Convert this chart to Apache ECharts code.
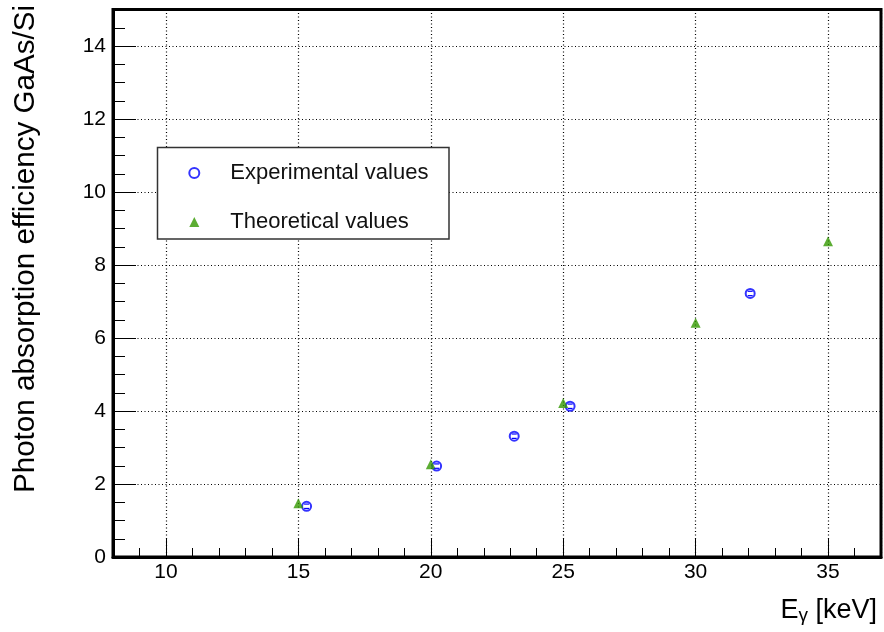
<!DOCTYPE html>
<html>
<head>
<meta charset="utf-8">
<script src="https://cdn.jsdelivr.net/npm/echarts@6/dist/echarts.min.js"></script>
<style>html,body{margin:0;padding:0;background:#fff;}#c{width:884px;height:632px;}</style>
</head>
<body>
<div id="c"></div>
<script>
// Data
const expX = [15.31, 20.22, 23.15, 25.26, 32.06];
const expY = [1.39, 2.49, 3.31, 4.13, 7.22];
const expYErr = [0.06, 0.06, 0.06, 0.06, 0.06];
const theoX = [15, 20, 25, 30, 35];
const theoY = [1.47, 2.54, 4.22, 6.42, 8.65];
const seriesNames = ['Experimental values', 'Theoretical values'];
const xTitle = ['E', 'γ', ' [keV]'];
const yTitle = 'Photon absorption efficiency GaAs/Si';

const FONT = '"Liberation Sans", Arial, Helvetica, sans-serif';
const GREEN = '#339900';
const BLUE = '#0000ff';
const chart = echarts.init(document.getElementById('c'), null, {renderer: 'canvas'});

const expData = expX.map((x, i) => [x, expY[i]]);
const errData = expX.map((x, i) => [x, expY[i], expYErr[i]]);
const theoData = theoX.map((x, i) => [x, theoY[i]]);

chart.setOption({
  backgroundColor: '#fff',
  animation: false,
  textStyle: {fontFamily: FONT},
  grid: {left: 113, right: 3, top: 9.5, bottom: 75, show: true, borderWidth: 3, borderColor: '#000', backgroundColor: 'transparent'},
  xAxis: {
    type: 'value', min: 8, max: 37,
    axisLine: {show: true, lineStyle: {color: '#000', width: 3}},
    axisTick: {show: true, inside: true, length: 18, lineStyle: {color: '#000', width: 1}},
    minorTick: {show: true, splitNumber: 5, length: 9, lineStyle: {color: '#000', width: 1}},
    axisLabel: {color: '#000', fontSize: 21, fontFamily: FONT, margin: 5, showMinLabel: false, showMaxLabel: false},
    splitLine: {show: true, lineStyle: {color: '#000', width: 1.2, type: [1, 2.5]}}
  },
  yAxis: {
    type: 'value', min: 0, max: 15, interval: 2,
    axisLine: {show: true, lineStyle: {color: '#000', width: 3}},
    axisTick: {show: true, inside: true, length: 23, lineStyle: {color: '#000', width: 1}},
    minorTick: {show: true, splitNumber: 4, length: 12, lineStyle: {color: '#000', width: 1}},
    axisLabel: {color: '#000', fontSize: 21, fontFamily: FONT, margin: 7, showMaxLabel: false},
    splitLine: {show: true, lineStyle: {color: '#000', width: 1.2, type: [1, 2.5]}}
  },
  legend: {
    orient: 'vertical', left: 188.3, top: 162, padding: 0,
    itemWidth: 10, itemHeight: 10, itemGap: 27,
    data: [
      {name: seriesNames[0]},
      {name: seriesNames[1], icon: 'triangle'}
    ],
    textStyle: {fontSize: 22, color: '#111', fontFamily: FONT, padding: [0, 0, 0, 26]},
    z: 20
  },
  graphic: [
    {type: 'rect', z: 10, shape: {x: 157.5, y: 147.5, width: 291.5, height: 91.5},
     style: {fill: '#fff', stroke: '#333', lineWidth: 1.5}},
    {type: 'text', z: 10, x: 26, y: 5, rotation: Math.PI / 2,
     style: {text: yTitle, fontSize: 29.6, fontFamily: FONT, fill: '#000', align: 'right', verticalAlign: 'middle'}},
    {type: 'text', z: 10, x: 877, y: 595.5,
     style: {text: '{a|' + xTitle[0] + '}{s|' + xTitle[1] + '}{a|' + xTitle[2] + '}',
       align: 'right', verticalAlign: 'top', fill: '#000',
       rich: {
         a: {fontSize: 27, lineHeight: 30, fontFamily: FONT, fill: '#000', verticalAlign: 'middle'},
         s: {fontSize: 19, lineHeight: 19, fontFamily: FONT, fill: '#000', verticalAlign: 'bottom'}
       }}}
  ],
  series: [
    {
      name: seriesNames[0], type: 'scatter', data: expData,
      symbol: 'emptyCircle', symbolSize: 9,
      itemStyle: {color: BLUE, borderColor: BLUE, borderWidth: 2},
      z: 5
    },
    {
      name: 'errors', type: 'custom', data: errData, z: 6,
      renderItem: function (params, api) {
        const x = api.value(0), y = api.value(1), ey = api.value(2);
        const c = api.coord([x, y]);
        const t = api.coord([x, y + ey]);
        const b = api.coord([x, y - ey]);
        const hw = 2.5;
        return {type: 'group', children: [
          {type: 'line', shape: {x1: c[0] - hw, y1: t[1], x2: c[0] + hw, y2: t[1]}, style: {stroke: BLUE, lineWidth: 1.2}},
          {type: 'line', shape: {x1: c[0] - hw, y1: b[1], x2: c[0] + hw, y2: b[1]}, style: {stroke: BLUE, lineWidth: 1.2}}
        ]};
      }
    },
    {
      name: seriesNames[1], type: 'scatter', data: theoData,
      symbol: 'triangle', symbolSize: 10,
      itemStyle: {color: GREEN},
      z: 5
    }
  ]
});
</script>
</body>
</html>
